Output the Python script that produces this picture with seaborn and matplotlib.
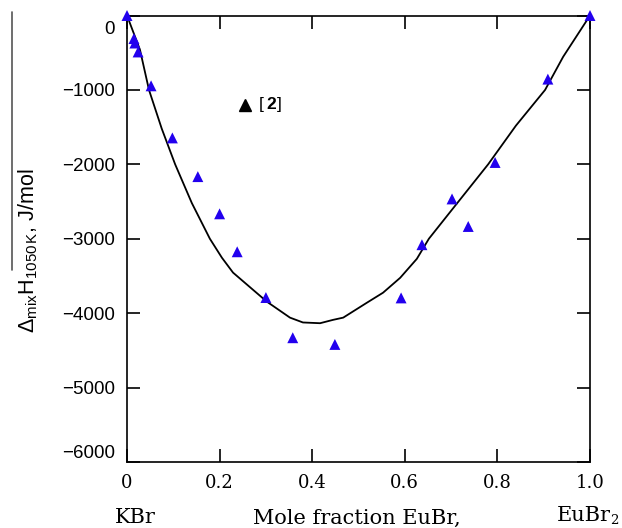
import matplotlib
matplotlib.use("Agg")
import matplotlib.pyplot as plt
from matplotlib.lines import Line2D
from matplotlib.transforms import ScaledTranslation
import seaborn as sns
import pandas as pd

# ---- data ----
curve_x = [0, 0.028, 0.0475, 0.075, 0.104, 0.14, 0.179, 0.205, 0.229, 0.272, 0.302,
           0.352, 0.38, 0.417, 0.445, 0.467, 0.518, 0.553, 0.59, 0.626, 0.652, 0.698,
           0.78, 0.84, 0.903, 0.942, 1.0]
curve_y = [0, -460, -1000, -1520, -2000, -2520, -3000, -3255, -3455, -3685, -3845,
           -4060, -4125, -4135, -4090, -4060, -3860, -3725, -3525, -3270, -3000, -2640,
           -2000, -1480, -1000, -555, 0]

points_x = [0, 0.015, 0.017, 0.024, 0.052, 0.098, 0.153, 0.2, 0.238, 0.30, 0.358,
            0.449, 0.592, 0.637, 0.702, 0.737, 0.795, 0.909, 1.0]
points_y = [0, -310, -370, -490, -945, -1645, -2165, -2665, -3175, -3790, -4330,
            -4420, -3795, -3080, -2465, -2835, -1975, -855, 0]

xticks = [0, 0.2, 0.4, 0.6, 0.8, 1.0]
xtick_labels = ["0", "0.2", "0.4", "0.6", "0.8", "1.0"]
yticks = [0, -1000, -2000, -3000, -4000, -5000, -6000]
ytick_labels = ["0", "\u22121000", "\u22122000", "\u22123000", "\u22124000", "\u22125000", "\u22126000"]

curve_df = pd.DataFrame({"x": curve_x, "y": curve_y})
pts_df = pd.DataFrame({"x": points_x, "y": points_y})

sns.set_style("ticks")
plt.rcParams["mathtext.fontset"] = "custom"
plt.rcParams["mathtext.rm"] = "Liberation Sans"
plt.rcParams["mathtext.it"] = "Liberation Sans:italic"
plt.rcParams["text.color"] = "black"

fig = plt.figure(figsize=(6.22, 5.28), dpi=100)
ax = fig.add_axes([127 / 622, 1 - 462 / 528, 463 / 622, (462 - 15.5) / 528])

sns.lineplot(data=curve_df, x="x", y="y", sort=False, estimator=None,
             color="black", linewidth=1.3, ax=ax)
sns.scatterplot(data=pts_df, x="x", y="y", marker="^", s=62, color="#2200ee",
                edgecolor="none", linewidth=0, ax=ax, clip_on=False, zorder=5)

ax.set_xlim(0, 1.0)
ax.set_ylim(-6000, 0)
ax.set_xlabel("")
ax.set_ylabel("")

for s in ax.spines.values():
    s.set_visible(True)
    s.set_color("black")
    s.set_linewidth(1.2)

ax.set_xticks(xticks)
ax.set_xticklabels(xtick_labels, fontfamily="DejaVu Serif", fontsize=13)
ax.set_yticks(yticks)
ax.set_yticklabels(ytick_labels, fontfamily="Liberation Sans", fontsize=13.5)
ax.tick_params(axis="both", direction="in", length=9.5, width=1.2, color="black",
               labelcolor="black", top=True, right=True)
ax.tick_params(axis="x", pad=9)
ax.tick_params(axis="y", pad=8.5)

ylabs = ax.get_yticklabels()
ylabs[0].set_va("top")
ylabs[0].set_transform(ylabs[0].get_transform() +
                       ScaledTranslation(0, -4 / 72, fig.dpi_scale_trans))
ylabs[-1].set_va("bottom")

# legend marker
ax.plot([0.255], [-1200], marker="^", color="black", markersize=8.5, linestyle="none")
ax.text(0.285, -1200, "[", fontsize=12.5, fontfamily="Liberation Sans", va="center", ha="left")
ax.text(0.302, -1200, "2", fontsize=12.5, fontfamily="Liberation Sans", fontweight="bold",
        va="center", ha="left")
ax.text(0.324, -1200, "]", fontsize=12.5, fontfamily="Liberation Sans", va="center", ha="left")

# y label with overline
fig.text(28 / 622, 1 - 251 / 528,
         r"$\mathrm{\Delta}_{\rm mix}\mathrm{H}_{\rm 1050\,K}$, J/mol",
         rotation=90, ha="center", va="center", fontsize=15.5,
         fontfamily="Liberation Sans", color="black")
fig.add_artist(Line2D([12 / 622, 12 / 622], [1 - 12 / 528, 1 - 270 / 528],
                      transform=fig.transFigure, color="#555555", linewidth=1.2))

# bottom labels
fig.text(115 / 622, 1 - 523 / 528, "KBr", fontfamily="DejaVu Serif", fontsize=15,
         ha="left", va="baseline")
fig.text(253 / 622, 1 - 524 / 528, "Mole fraction EuBr,", fontfamily="DejaVu Serif",
         fontsize=15, ha="left", va="baseline")
t_eu = fig.text(557 / 622, 1 - 521 / 528, "EuBr", fontfamily="DejaVu Serif", fontsize=15,
                ha="left", va="baseline")
fig.canvas.draw()
bb = t_eu.get_window_extent()
fig.text((bb.x1 - 1) / fig.bbox.width, 1 - 524.5 / 528, "2", fontfamily="DejaVu Serif",
         fontsize=9.5, ha="left", va="baseline")

fig.savefig("out.png", dpi=100)
